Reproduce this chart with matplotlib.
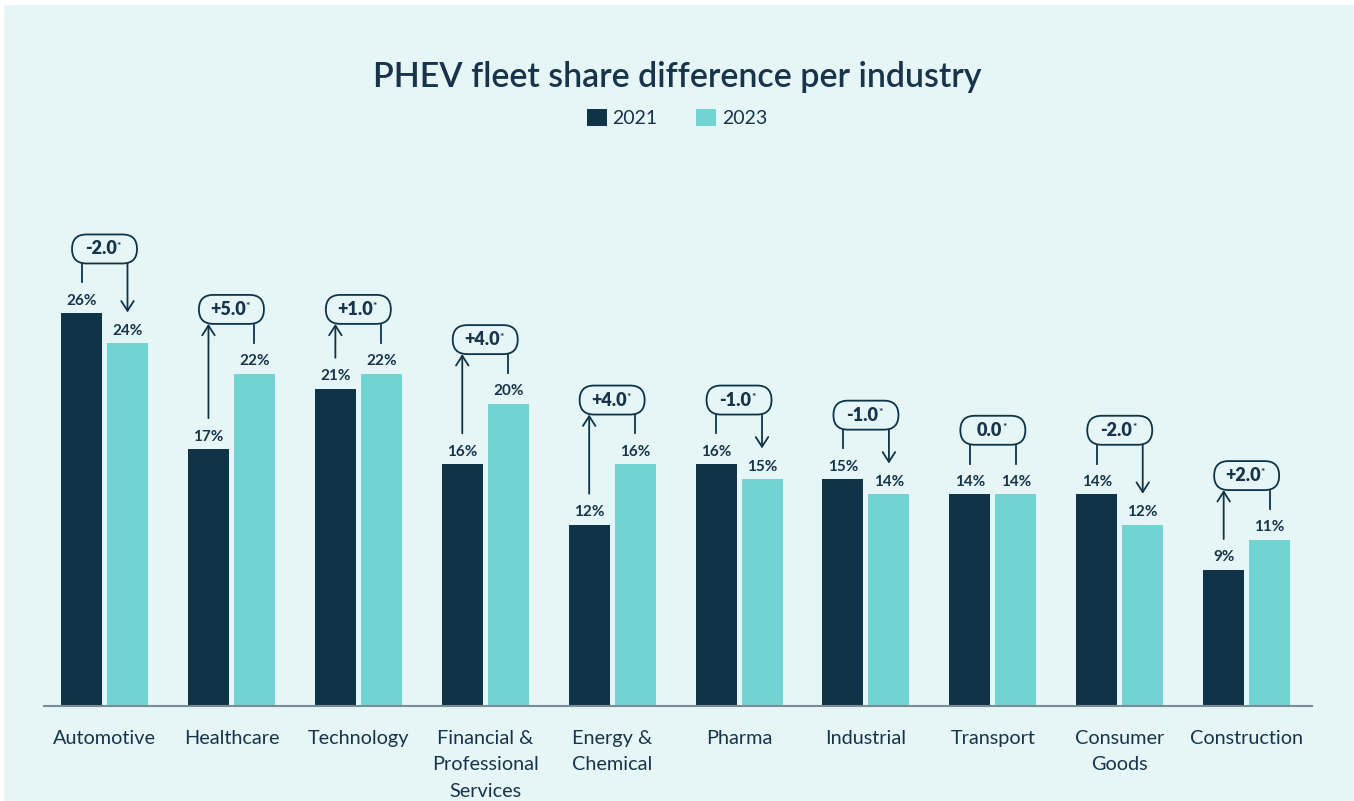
import matplotlib
matplotlib.use("Agg")
import matplotlib.pyplot as plt
from matplotlib.patches import FancyBboxPatch, Rectangle
from matplotlib.transforms import ScaledTranslation

# data
industries = ["Automotive", "Healthcare", "Technology", "Financial &\nProfessional\nServices",
              "Energy &\nChemical", "Pharma", "Industrial", "Transport", "Consumer\nGoods",
              "Construction"]
share_2021 = [26, 17, 21, 16, 12, 16, 15, 14, 14, 9]
share_2023 = [24, 22, 22, 20, 16, 15, 14, 14, 12, 11]
diff_labels = ["-2.0", "+5.0", "+1.0", "+4.0", "+4.0", "-1.0", "-1.0", "0.0", "-2.0", "+2.0"]

NAVY = "#0F3448"
TEAL = "#72D4D2"
BG = "#E6F5F5"
TXT = "#17344A"

plt.rcParams["font.family"] = ["Lato", "DejaVu Sans"]

fig = plt.figure(figsize=(13.54, 8.01), dpi=100, facecolor="white")
fig.patches.append(Rectangle((4 / 1354, 0), 1, 1 - 5 / 801, transform=fig.transFigure,
                             facecolor=BG, edgecolor="none", zorder=-10))

ax = fig.add_axes([44 / 1354, 95 / 801, 1268 / 1354, 556 / 801])
ax.set_facecolor("none")

x = list(range(len(industries)))
w = 0.323
off = 0.181
b1 = ax.bar([i - off for i in x], share_2021, width=w, color=NAVY, label="2021")
b2 = ax.bar([i + off for i in x], share_2023, width=w, color=TEAL, label="2023")

ax.set_xlim(-0.477, 9.515)
ax.set_ylim(0, 36.8)

# value labels
for i in x:
    for xv, v in [(i - off, share_2021[i]), (i + off, share_2023[i])]:
        ax.annotate(f"{v}%", (xv, v), xytext=(0, 4), textcoords="offset points",
                    ha="center", va="bottom", fontsize=11, fontweight="bold", color=TXT)

# difference brackets
for i in x:
    v1, v2 = share_2021[i], share_2023[i]
    top = max(v1, v2) + 4.25
    box_bottom = top - 0.96
    tr = fig.dpi_scale_trans + ScaledTranslation(i, top, ax.transData)
    ax.add_patch(FancyBboxPatch((-0.325, -0.145), 0.65, 0.29,
                                boxstyle="round,pad=0,rounding_size=0.145",
                                transform=tr, facecolor="none", edgecolor=NAVY, lw=1.3))
    t = ax.annotate(diff_labels[i], (i, top), xytext=(-2.5, 0), textcoords="offset points",
                    ha="center", va="center", fontsize=13, fontweight="heavy", color=TXT)
    ax.annotate("*", xy=(1, 1), xycoords=t, xytext=(0, -1), textcoords="offset points",
                ha="left", va="top", fontsize=7.5, fontweight="bold", color=TXT)
    for xv, v in [(i - off, v1), (i + off, v2)]:
        end = v + 2.05
        if (v2 < v1 and xv > i) :
            ax.annotate("", xy=(xv, end), xytext=(xv, box_bottom),
                        arrowprops=dict(arrowstyle="->,head_length=0.7,head_width=0.45",
                                        color=NAVY, lw=1.3, shrinkA=0, shrinkB=0))
        elif (v2 > v1 and xv < i):
            ax.annotate("", xy=(xv, box_bottom), xytext=(xv, end),
                        arrowprops=dict(arrowstyle="->,head_length=0.7,head_width=0.45",
                                        color=NAVY, lw=1.3, shrinkA=0, shrinkB=0))
        else:
            ax.plot([xv, xv], [box_bottom, end], color=NAVY, lw=1.3)

for s in ["top", "right", "left"]:
    ax.spines[s].set_visible(False)
ax.spines["bottom"].set_color("#7A8C96")
ax.spines["bottom"].set_linewidth(1.5)
ax.set_yticks([])
ax.set_xticks(x)
ax.set_xticklabels(industries, fontsize=14.3, color=TXT, linespacing=1.68)
ax.tick_params(axis="x", length=0, pad=17)

fig.text(0.5, 1 - 77 / 801, "PHEV fleet share difference per industry", ha="center",
         va="center", fontsize=24.5, color=TXT, fontweight="semibold")
fig.legend([b1, b2], ["2021", "2023"], loc="center", bbox_to_anchor=(0.5, 1 - 118 / 801),
           ncol=2, frameon=False, fontsize=14, handlelength=1.0, handleheight=1.0,
           handletextpad=0.3, columnspacing=2.0, labelcolor=TXT)

fig.savefig("out.png", dpi=100, facecolor="white")
